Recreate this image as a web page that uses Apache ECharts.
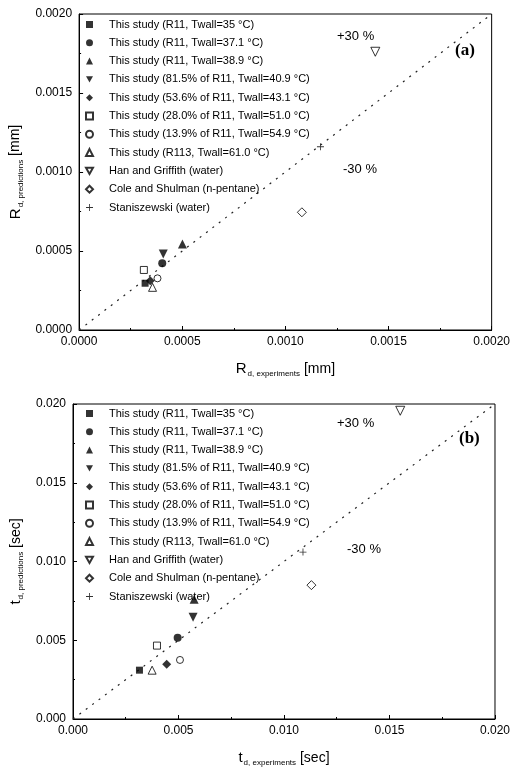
<!DOCTYPE html>
<html>
<head>
<meta charset="utf-8">
<script src="https://cdn.jsdelivr.net/npm/echarts@6/dist/echarts.min.js"></script>
<style>
  html, body { margin: 0; padding: 0; background: #fff; }
  #chart { width: 513px; height: 769px; }
</style>
</head>
<body>
<div id="chart"></div>
<script>
// legend names (same order in both panels)
const names = [
  'This study (R11, Twall=35 °C)',
  'This study (R11, Twall=37.1 °C)',
  'This study (R11, Twall=38.9 °C)',
  'This study (81.5% of R11, Twall=40.9 °C)',
  'This study (53.6% of R11, Twall=43.1 °C)',
  'This study (28.0% of R11, Twall=51.0 °C)',
  'This study (13.9% of R11, Twall=54.9 °C)',
  'This study (R113, Twall=61.0 °C)',
  'Han and Griffith (water)',
  'Cole and Shulman (n-pentane)',
  'Staniszewski (water)'
]

// (a) departure radius [mm]: [experiment, prediction]
const radiusPts = [
  [0.00032, 0.000296],
  [0.000403, 0.000422],
  [0.000501, 0.000544],
  [0.000408, 0.000481],
  [0.000345, 0.000312],
  [0.000314, 0.00038],
  [0.00038, 0.000327],
  [0.000356, 0.00027],
  [0.001436, 0.001761],
  [0.00108, 0.000745],
  [0.00117, 0.00116]
]

// (b) departure time [sec]: [experiment, prediction]
const timePts = [
  [0.00315, 0.0031],
  [0.00496, 0.00516],
  [0.00574, 0.0076],
  [0.00569, 0.00646],
  [0.00444, 0.00347],
  [0.00398, 0.00466],
  [0.00507, 0.00375],
  [0.00375, 0.0031],
  [0.01551, 0.01957],
  [0.0113, 0.0085],
  [0.0109, 0.0106]
]

// axis ranges / ticks
const radiusAxis = { min: 0, max: 0.002, step: 0.0005, digits: 4 }
const timeAxis = { min: 0, max: 0.02, step: 0.005, digits: 3 }

const plus = 'path://M4.4,0 L5.6,0 L5.6,4.4 L10,4.4 L10,5.6 L5.6,5.6 L5.6,10 L4.4,10 L4.4,5.6 L0,5.6 L0,4.4 L4.4,4.4 Z'
const downTri = 'path://M0,0 L10,0 L5,9 Z'
// filled / open marker per series
const marks = [
  { symbol: 'rect', size: 7, open: false },
  { symbol: 'circle', size: 8, open: false },
  { symbol: 'triangle', size: 9, open: false },
  { symbol: downTri, size: 9, open: false },
  { symbol: 'diamond', size: 9, open: false },
  { symbol: 'rect', size: 7, open: true },
  { symbol: 'circle', size: 7, open: true },
  { symbol: 'triangle', size: 8, open: true },
  { symbol: downTri, size: 9, open: true },
  { symbol: 'diamond', size: 9, open: true },
  { symbol: plus, size: 7, open: false }
]

const font = 'Liberation Sans, Arial, sans-serif'

function makeAxes(idx, ax, nameMain, nameSub, unit, isX) {
  return {
    gridIndex: idx,
    type: 'value',
    min: ax.min,
    max: ax.max,
    interval: ax.step,
    name: '{m|' + nameMain + '}{s|' + nameSub + '}{u| ' + unit + '}',
    nameLocation: 'middle',
    nameGap: isX ? 30 : 46,
    nameTextStyle: {
      rich: {
        m: { fontSize: 15, fontFamily: font, color: '#000' },
        s: { fontSize: 8, fontFamily: font, color: '#000', verticalAlign: 'bottom', padding: [10, 0, 0, 1] },
        u: { fontSize: 14, fontFamily: font, color: '#000' }
      }
    },
    axisLine: { show: true, lineStyle: { color: '#000', width: 1 } },
    axisTick: { show: true, inside: true, length: 4, lineStyle: { color: '#000' } },
    minorTick: { show: true, splitNumber: 2, length: 2, lineStyle: { color: '#000' } },
    splitLine: { show: false },
    axisLabel: {
      color: '#000',
      fontSize: 12,
      fontFamily: font,
      margin: isX ? 6 : 7,
      formatter: v => v.toFixed(ax.digits)
    }
  }
}

function panelSeries(idx, pts, ax) {
  const list = names.map((n, i) => ({
    name: n,
    type: 'scatter',
    xAxisIndex: idx,
    yAxisIndex: idx,
    symbol: marks[i].symbol,
    symbolSize: marks[i].size,
    itemStyle: marks[i].open
      ? { color: '#fff', borderColor: '#000', borderWidth: 1 }
      : { color: '#000', borderWidth: 0 },
    data: [pts[i]],
    z: 3
  }))
  // 1:1 reference line
  list.push({
    type: 'line',
    xAxisIndex: idx,
    yAxisIndex: idx,
    symbol: 'none',
    silent: true,
    lineStyle: { color: '#222', width: 1.2, type: [2, 6] },
    data: [[ax.min, ax.min], [ax.max, ax.max]],
    z: 2
  })
  return list
}

function legendFor(top) {
  return {
    data: names,
    orient: 'vertical',
    left: 80,
    top: top,
    itemWidth: 7,
    itemHeight: 7,
    itemGap: 7.3,
    selectedMode: false,
    textStyle: { fontSize: 11, fontFamily: font, color: '#000', padding: [0, 0, 0, 11] }
  }
}

function label(text, x, y, size, serif) {
  return {
    type: 'text',
    left: x,
    top: y,
    style: {
      text: text,
      font: (serif ? 'bold ' : '') + size + 'px ' + (serif ? 'Liberation Serif, Times New Roman, serif' : font),
      fill: '#000'
    }
  }
}

let myChart = echarts.init(document.getElementById('chart'))
myChart.setOption({
  backgroundColor: '#fff',
  animation: false,
  grid: [
    { left: 73, right: 17, top: 14, height: 316, show: true, borderColor: '#000', borderWidth: 1 },
    { left: 73, right: 15, top: 404, height: 315, show: true, borderColor: '#000', borderWidth: 1 }
  ],
  xAxis: [
    makeAxes(0, radiusAxis, 'R', 'd, experiments', '[mm]', true),
    makeAxes(1, timeAxis, 't', 'd, experiments', '[sec]', true)
  ],
  yAxis: [
    makeAxes(0, radiusAxis, 'R', 'd, predictions', '[mm]', false),
    makeAxes(1, timeAxis, 't', 'd, predictions', '[sec]', false)
  ],
  legend: [legendFor(14), legendFor(403)],
  series: panelSeries(0, radiusPts, radiusAxis).concat(panelSeries(1, timePts, timeAxis)),
  graphic: [
    label('+30 %', 337, 30, 13),
    label('-30 %', 343, 163, 13),
    label('(a)', 455, 42, 17, true),
    label('+30 %', 337, 417, 13),
    label('-30 %', 347, 543, 13),
    label('(b)', 459, 430, 17, true)
  ]
})
</script>
</body>
</html>
